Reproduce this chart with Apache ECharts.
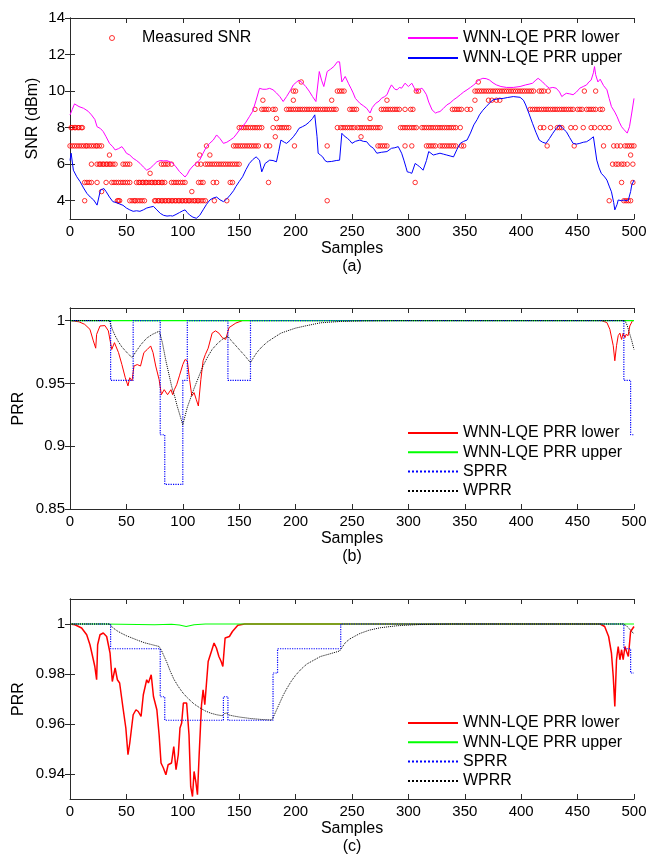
<!DOCTYPE html>
<html>
<head>
<meta charset="utf-8">
<script src="https://cdn.jsdelivr.net/npm/echarts@6.0.0/dist/echarts.min.js"></script>
<style>
  html, body { margin: 0; padding: 0; background: #fff; }
  #chart { width: 650px; height: 860px; }
</style>
</head>
<body>
<div id="chart"></div>
<script>
// ---- panel (a): measured SNR, one list of samples per SNR level ----
const snrLevels = [4, 4.5, 5, 5.5, 6, 6.5, 7, 7.5, 8, 8.5, 9, 9.5, 10, 10.5];
const snrSamples = [
  [13, 42, 43, 44, 53, 55, 57, 58, 60, 62, 64, 66, 75, 76, 78, 79, 81, 82, 84, 85, 87, 88, 90, 91, 93, 94, 96, 97, 99, 100, 102, 103, 105, 106, 108, 110, 111, 113, 114, 116, 118, 120, 128, 139, 228, 478, 491, 493, 495, 497],
  [28, 108],
  [13, 15, 17, 19, 24, 32, 37, 39, 41, 43, 45, 47, 49, 51, 53, 59, 61, 62, 64, 65, 67, 68, 70, 72, 73, 75, 76, 78, 79, 81, 82, 84, 90, 92, 94, 96, 98, 100, 102, 114, 116, 118, 127, 130, 142, 144, 176, 306, 489, 499],
  [71],
  [19, 24, 26, 27, 29, 30, 32, 33, 35, 36, 38, 40, 47, 49, 51, 53, 81, 83, 85, 87, 90, 113, 116, 120, 122, 124, 126, 128, 130, 132, 134, 136, 138, 140, 142, 144, 146, 148, 150, 481, 484, 486, 489, 491, 494, 499],
  [35, 115, 124, 497],
  [0, 2, 4, 6, 8, 10, 12, 14, 15, 17, 19, 21, 23, 24, 26, 28, 121, 145, 147, 149, 151, 153, 155, 157, 159, 161, 163, 165, 167, 174, 177, 199, 228, 273, 275, 277, 279, 281, 297, 303, 316, 318, 320, 322, 324, 328, 330, 332, 334, 336, 338, 340, 342, 347, 349, 423, 447, 473, 482, 485, 488, 492, 494, 496, 498, 500],
  [182, 258],
  [1, 2, 4, 5, 7, 8, 10, 11, 150, 152, 154, 156, 158, 160, 162, 164, 166, 168, 170, 180, 184, 186, 188, 190, 192, 194, 237, 240, 242, 244, 246, 248, 250, 252, 255, 257, 259, 261, 263, 265, 267, 269, 271, 273, 275, 293, 295, 297, 299, 301, 303, 305, 307, 312, 314, 316, 318, 320, 322, 324, 326, 328, 330, 332, 334, 336, 338, 340, 342, 346, 417, 420, 426, 432, 434, 436, 444, 448, 455, 462, 465, 470, 474, 478],
  [183, 266],
  [164, 170, 172, 174, 176, 180, 182, 192, 194, 196, 198, 200, 202, 204, 206, 208, 210, 212, 214, 216, 218, 220, 222, 224, 226, 228, 230, 232, 234, 236, 248, 250, 252, 254, 276, 278, 280, 282, 284, 286, 288, 290, 292, 297, 302, 304, 339, 341, 343, 345, 347, 352, 355, 408, 410, 412, 414, 416, 418, 420, 422, 424, 426, 428, 430, 432, 434, 436, 438, 440, 442, 444, 446, 450, 452, 454, 458, 460, 462, 464, 466, 470, 472],
  [171, 198, 232, 281, 359, 371, 374, 378, 381],
  [198, 200, 237, 239, 241, 243, 307, 309, 359, 361, 363, 365, 367, 369, 371, 373, 375, 377, 379, 381, 383, 385, 387, 389, 391, 393, 395, 397, 399, 401, 403, 405, 407, 409, 411, 416, 418, 420, 424, 456, 466],
  [205, 362]
];

// [sample, SNR dBm]
const aLower = [[0,8.69],[2,9.0],[4,9.3],[8,9.15],[12,9.06],[16,8.9],[19,8.7],[22,8.45],[24,8.05],[27,7.95],[29.5,7.78],[32,7.5],[35,7.14],[38,6.95],[40,6.78],[43,6.85],[46,6.96],[48,6.8],[50,6.6],[53,6.5],[56,6.32],[59,6.2],[62,6.05],[65,5.85],[68,5.67],[71,5.77],[74,5.95],[77,6.13],[80,6.2],[83,6.18],[86,6.19],[89,6.12],[91,6.05],[94,5.85],[97,5.6],[100,5.42],[102,5.3],[104,5.45],[106,5.68],[109,5.9],[112,6.05],[115,6.23],[118,6.6],[121,6.96],[124,7.15],[127,7.32],[130,7.6],[133,7.4],[136,7.14],[139,7.2],[142,7.32],[145,7.45],[147,7.6],[150,7.85],[153,8.05],[156,8.3],[159,8.6],[162,8.9],[165,9.5],[168,10.15],[171,10.1],[174,10.1],[177,10.15],[180,10.07],[183,9.9],[186,9.7],[189,9.43],[192,9.7],[195,10.0],[198,10.34],[201,10.5],[203,10.6],[206,10.45],[209,10.25],[212,10.0],[215,9.7],[218,9.43],[221,11.07],[223,10.6],[225,10.25],[228,11.07],[231,11.2],[234,11.35],[237,11.6],[239,11.6],[241,10.5],[244,10.8],[247,10.4],[249,10.16],[251,9.9],[253,9.6],[257,9.33],[260,9.2],[263,9.06],[266,8.8],[268,9.1],[271,9.33],[274,9.45],[276,9.6],[279,9.7],[281,9.8],[283,10.1],[285,10.34],[288,10.1],[290,10.07],[292,10.2],[294,10.16],[297,10.43],[300,10.25],[303,10.43],[305,10.2],[307,9.97],[310,10.1],[312,10.16],[314,10.0],[316,9.8],[318,9.4],[321,8.97],[324,8.8],[326,8.85],[328,8.88],[331,9.05],[334,9.24],[337,9.35],[340,9.52],[343,9.65],[346,9.8],[349,9.95],[352,10.07],[355,10.2],[358,10.34],[360,10.45],[362,10.6],[364,10.65],[366,10.7],[369,10.68],[372,10.6],[375,10.45],[378,10.34],[382,10.25],[387,10.2],[393,10.2],[399,10.25],[404,10.34],[407,10.38],[410,10.43],[413,10.6],[415,10.7],[417,10.6],[419,10.5],[422,10.3],[425,10.16],[428,10.2],[431,10.16],[434,9.95],[436,9.7],[438,9.8],[440,9.88],[443,9.85],[446,9.8],[449,9.95],[452,10.16],[455,10.25],[458,10.34],[460,10.5],[462,10.6],[464,11.0],[465,11.34],[466,10.9],[468,10.5],[470,10.65],[471,10.6],[473,10.3],[476,10.07],[478,9.6],[480,9.15],[483,8.85],[485,8.6],[487,8.3],[489,8.05],[491,7.9],[494,7.7],[496,8.05],[498,8.8],[500,9.6]];
const aUpper = [[0,6.2],[1,6.6],[3,5.67],[6,5.31],[9,5.04],[12,4.7],[15,4.4],[18,4.2],[21,4.04],[24,3.76],[27,4.58],[30,4.67],[32,4.5],[35,4.2],[38,3.95],[41,3.9],[44,3.82],[47,3.75],[50,3.6],[53,3.5],[56,3.42],[59,3.45],[62,3.42],[65,3.5],[68,3.6],[71,3.65],[74,3.69],[77,3.5],[80,3.31],[83,3.2],[86,3.16],[89,3.18],[91,3.16],[94,3.25],[97,3.35],[100,3.45],[102,3.5],[104,3.35],[106,3.22],[109,3.1],[112,3.04],[115,3.2],[118,3.5],[121,3.8],[124,4.04],[127,4.15],[130,4.2],[133,4.05],[136,3.95],[139,4.1],[142,4.31],[145,4.55],[147,4.77],[150,5.05],[153,5.31],[156,5.7],[159,6.04],[162,6.25],[165,6.4],[168,6.22],[170,5.58],[173,6.04],[177,6.22],[180,6.2],[183,6.13],[185,6.7],[187,7.32],[190,7.2],[192,7.14],[195,7.3],[198,7.5],[201,7.75],[203,7.96],[206,8.05],[209,8.15],[212,8.3],[215,8.5],[217,8.7],[219,7.5],[220,6.6],[222,6.5],[224,6.4],[226,6.2],[228,6.13],[232,6.15],[236,6.2],[239,6.22],[241,7.69],[243,7.55],[246,7.41],[248,7.3],[250,7.14],[253,7.25],[257,7.32],[260,7.25],[263,7.23],[266,7.0],[269,6.87],[272,6.6],[276,6.65],[281,6.69],[285,6.87],[288,6.9],[291,6.96],[294,6.6],[296,6.22],[298,5.8],[299,5.58],[301,5.55],[303,5.5],[306,6.04],[308,5.95],[310,5.86],[313,5.67],[316,6.2],[318,6.69],[320,6.6],[322,6.5],[325,6.55],[328,6.6],[331,6.55],[334,6.5],[337,6.45],[340,6.4],[343,6.8],[346,7.14],[349,7.25],[352,7.32],[355,7.7],[358,8.15],[361,8.45],[363,8.7],[366,8.95],[369,9.15],[372,9.35],[375,9.52],[380,9.58],[384,9.6],[388,9.65],[393,9.7],[399,9.66],[402,9.5],[404,9.24],[407,8.75],[410,8.24],[413,7.75],[416,7.32],[419,7.2],[422,7.14],[425,7.4],[428,7.69],[431,7.95],[434,8.15],[437,7.95],[440,7.78],[443,7.45],[446,7.14],[449,7.1],[452,7.14],[455,7.2],[458,7.23],[461,7.35],[464,7.5],[467,6.22],[469,5.8],[471,5.5],[474,5.3],[476,5.13],[478,4.8],[480,4.49],[482,3.9],[483,3.5],[485,3.8],[486,4.04],[489,4.0],[491,4.04],[493,4.0],[495,4.04],[497,4.5],[498,4.86],[500,5.13]];

// ---- panel (b): [sample, PRR] ----
const bLower = [[0,1],[4,0.9995],[8,0.999],[13,0.997],[17.7,0.993],[20.7,0.9838],[22.8,0.978],[23.6,0.989],[26.6,0.9957],[31,0.996],[34,0.9918],[37,0.977],[39.4,0.9824],[43,0.9745],[46,0.965],[49,0.9545],[51.4,0.948],[53,0.9545],[55,0.952],[56.7,0.9638],[59.6,0.965],[62.5,0.9638],[65.5,0.9745],[68.5,0.977],[71.5,0.9798],[73.6,0.9745],[76,0.9638],[79,0.953],[81,0.941],[83.5,0.945],[86.5,0.941],[89.5,0.945],[91,0.941],[92.5,0.945],[94.6,0.949],[97,0.956],[100,0.965],[102,0.969],[104,0.968],[106,0.953],[108,0.940],[110,0.9426],[112,0.937],[113.8,0.932],[116,0.953],[118,0.968],[120,0.973],[122.5,0.978],[126,0.990],[129,0.9918],[132,0.990],[135,0.9864],[138,0.985],[141,0.9944],[147,0.998],[153,1],[471,1],[476,0.9984],[478.6,0.993],[481.6,0.98],[483,0.968],[484.5,0.98],[486,0.988],[487.5,0.990],[489,0.985],[490.4,0.99],[492,0.9864],[493,0.989],[494.8,0.988],[496.3,0.9957],[498.7,1],[500,1]];
const bUpper = [[0,1],[250,1],[500,1]];
const bSprr = [[0,1],[36,0.9524],[56,1],[80,0.9091],[84,0.8696],[100,0.9524],[104,1],[140,0.9524],[160,1],[491,0.9524],[497,0.9091],[500,0.9091]];
const bWprr = [[0,1],[35,1],[36,0.997],[38,0.992],[40,0.988],[43,0.983],[46,0.979],[50,0.975],[55,0.9705],[59,0.976],[63,0.981],[68,0.986],[73,0.989],[79,0.9915],[80,0.989],[82,0.982],[85,0.968],[88,0.956],[90,0.948],[93,0.939],[95,0.932],[98,0.923],[100,0.917],[102,0.924],[104,0.931],[106,0.936],[110,0.946],[114,0.955],[118,0.964],[122,0.971],[126,0.977],[131,0.982],[135,0.985],[140,0.9875],[143,0.984],[146,0.981],[150,0.977],[155,0.972],[160,0.9665],[163,0.971],[166,0.975],[170,0.979],[175,0.983],[180,0.986],[187,0.99],[195,0.9925],[200,0.994],[210,0.996],[222,0.9982],[240,0.9993],[260,0.9998],[290,1],[492,1],[494,0.996],[496,0.99],[498,0.984],[500,0.977]];

// ---- panel (c): [sample, PRR] ----
const cLower = [[0,1],[4.4,0.9997],[10.3,0.9984],[14.8,0.9957],[17.7,0.9917],[20.7,0.9857],[22,0.983],[23.6,0.9777],[24.5,0.9917],[26.6,0.9957],[29.5,0.9964],[32.5,0.995],[35.5,0.9884],[37.5,0.977],[40,0.9824],[42,0.9777],[44,0.9764],[47,0.9664],[49.5,0.9584],[51.4,0.9477],[53,0.9524],[54.7,0.9517],[56,0.9637],[58.5,0.9657],[60.5,0.965],[63,0.963],[65,0.9717],[68,0.9777],[69.5,0.9764],[72,0.9797],[74,0.971],[77,0.9657],[79,0.9557],[80.7,0.9444],[82.8,0.9424],[85,0.9397],[87,0.9437],[90,0.9444],[92,0.951],[94,0.9417],[96,0.9477],[97.5,0.9584],[99,0.9604],[100.5,0.9684],[103.4,0.9684],[105.5,0.9557],[107,0.935],[108.6,0.931],[110,0.941],[111.5,0.937],[113,0.9317],[114.5,0.9477],[116.6,0.9677],[118,0.9737],[119.5,0.9677],[122.5,0.985],[125.4,0.9891],[127.7,0.9924],[129.8,0.9904],[132,0.987],[134,0.985],[135.5,0.983],[137.5,0.9944],[141.3,0.995],[144,0.997],[148.8,0.9995],[154.7,1],[470,1],[474,0.999],[477.5,0.995],[480,0.9884],[481.6,0.979],[483,0.967],[484.5,0.9857],[486,0.991],[487.5,0.9857],[489,0.9897],[490.4,0.9857],[492,0.991],[493.4,0.989],[495,0.987],[497,0.997],[500,0.999]];
const cUpper = [[0,1],[30,1],[60,0.9998],[75,0.9997],[90,0.9999],[97,0.9996],[103,0.999],[110,0.9997],[120,1],[500,1]];
const cSprr = [[0,1],[36,0.9901],[80,0.9709],[84,0.9615],[136,0.9709],[140,0.9615],[180,0.9804],[184,0.9901],[240,1],[491,0.9901],[497,0.9804],[500,0.9804]];
const cWprr = [[0,1],[35,1],[38,0.9985],[42,0.9972],[46,0.9962],[50,0.9953],[55,0.9944],[60,0.9935],[66,0.9925],[72,0.9918],[79,0.991],[81,0.9895],[83,0.9875],[86,0.9845],[89,0.981],[92,0.978],[96,0.975],[100,0.9725],[104,0.9705],[110,0.968],[115,0.9665],[120,0.9652],[125,0.9643],[130,0.9637],[135,0.9633],[137,0.9642],[139,0.9644],[141,0.9636],[145,0.9632],[150,0.9628],[160,0.9622],[170,0.9618],[179,0.9616],[181,0.9635],[183,0.9655],[186,0.9685],[189,0.9715],[192,0.974],[196,0.977],[200,0.9795],[205,0.982],[210,0.984],[216,0.9855],[222,0.987],[230,0.988],[239,0.9892],[241,0.9905],[244,0.9925],[248,0.994],[252,0.995],[257,0.9962],[265,0.9975],[275,0.9985],[290,0.9993],[310,0.9998],[340,1],[491,1],[494,0.999],[497,0.9975],[500,0.996]];

// tick values
const snrTicks = [4, 6, 8, 10, 12, 14];
const prrTicksB = [0.85, 0.9, 0.95, 1];
const prrTicksC = [0.94, 0.96, 0.98, 1];

const FONT = 'Liberation Sans';
const AXIS_COLOR = '#2b2b2b';

const snrData = [];
snrLevels.forEach((lvl, i) => snrSamples[i].forEach(s => snrData.push([s, lvl])));

function xAxes(gridIndex, label) {
  const common = {
    type: 'value', gridIndex, min: 0, max: 500, interval: 50,
    axisLine: { show: true, lineStyle: { color: AXIS_COLOR, width: 1 } },
    axisTick: { show: true, inside: true, length: 5, lineStyle: { color: AXIS_COLOR } },
    splitLine: { show: false }
  };
  return [
    Object.assign({}, common, {
      position: 'bottom',
      axisLabel: { fontSize: 15, color: '#000', margin: 5, fontFamily: FONT },
      name: 'Samples\n' + label, nameLocation: 'middle', nameGap: 19,
      nameTextStyle: { fontSize: 16, color: '#000', lineHeight: 18, fontFamily: FONT }
    }),
    Object.assign({}, common, { position: 'top', axisLabel: { show: false } })
  ];
}

function yAxes(gridIndex, min, max, ticks, name, gap) {
  const common = {
    type: 'value', gridIndex, min, max,
    axisLine: { show: true, lineStyle: { color: AXIS_COLOR, width: 1 } },
    axisTick: { show: true, inside: true, length: 5, customValues: ticks, lineStyle: { color: AXIS_COLOR } },
    splitLine: { show: false }
  };
  return [
    Object.assign({}, common, {
      position: 'left',
      axisLabel: { customValues: ticks, fontSize: 15, color: '#000', margin: 5, fontFamily: FONT },
      name, nameLocation: 'middle', nameRotate: 90, nameGap: gap, nameMoveOverlap: false,
      nameTextStyle: { fontSize: 16, color: '#000', fontFamily: FONT }
    }),
    Object.assign({}, common, { position: 'right', axisLabel: { show: false } })
  ];
}

function line(name, data, axis, color, width, type, step) {
  return {
    name, type: 'line', data, xAxisIndex: axis, yAxisIndex: axis,
    symbol: 'none', step: step || false, animation: false,
    lineStyle: { color, width, type: type || 'solid' },
    itemStyle: { color }
  };
}

const stripPanel = n => n.replace(/ \([abc]\)$/, '');
const legendBase = {
  orient: 'vertical', itemWidth: 50, itemHeight: 14, itemGap: 3.3, padding: 0,
  textStyle: { fontSize: 16, color: '#000', fontFamily: FONT, lineHeight: 16 },
  formatter: stripPanel, selectedMode: false,
  itemStyle: { opacity: 0 }   // line legends: show only the line, no marker
};

const option = {
  backgroundColor: '#fff',
  animation: false,
  grid: [
    { left: 70, top: 18, width: 564, height: 201, outerBoundsMode: 'none' },
    { left: 70, top: 308, width: 564, height: 201, outerBoundsMode: 'none' },
    { left: 70, top: 599, width: 564, height: 200, outerBoundsMode: 'none' }
  ],
  xAxis: [...xAxes(0, '(a)'), ...xAxes(1, '(b)'), ...xAxes(2, '(c)')],
  yAxis: [
    ...yAxes(0, 3, 14, snrTicks, 'SNR (dBm)', 29),
    ...yAxes(1, 0.85, 1.01, prrTicksB, 'PRR', 43),
    ...yAxes(2, 0.93, 1.01, prrTicksC, 'PRR', 43)
  ],
  legend: [
    Object.assign({}, legendBase, { left: 109, top: 30, itemHeight: 5, itemStyle: { borderWidth: 1 }, data: ['Measured SNR'] }),
    Object.assign({}, legendBase, { left: 407, top: 30, itemGap: 4, data: ['WNN-LQE PRR lower (a)', 'WNN-LQE PRR upper (a)'] }),
    Object.assign({}, legendBase, { left: 407, top: 425, data: ['WNN-LQE PRR lower (b)', 'WNN-LQE PRR upper (b)', 'SPRR (b)', 'WPRR (b)'] }),
    Object.assign({}, legendBase, { left: 407, top: 715, data: ['WNN-LQE PRR lower (c)', 'WNN-LQE PRR upper (c)', 'SPRR (c)', 'WPRR (c)'] })
  ],
  series: [
    {
      name: 'Measured SNR', type: 'scatter', data: snrData, xAxisIndex: 0, yAxisIndex: 0,
      symbol: 'circle', symbolSize: 4.5, animation: false,
      itemStyle: { color: 'rgba(255,255,255,0)', borderColor: '#ff0000', borderWidth: 1 }
    },
    line('WNN-LQE PRR lower (a)', aLower, 0, '#ff00ff', 1),
    line('WNN-LQE PRR upper (a)', aUpper, 0, '#0000ff', 1),

    line('WNN-LQE PRR lower (b)', bLower, 2, '#ff0000', 1),
    line('WNN-LQE PRR upper (b)', bUpper, 2, '#00ff00', 1.2),
    line('SPRR (b)', bSprr, 2, '#0000ff', 1.2, 'dotted', 'end'),
    line('WPRR (b)', bWprr, 2, '#000000', 1, 'dotted'),

    line('WNN-LQE PRR lower (c)', cLower, 4, '#ff0000', 1.5),
    line('WNN-LQE PRR upper (c)', cUpper, 4, '#00ff00', 1.2),
    line('SPRR (c)', cSprr, 4, '#0000ff', 1.2, 'dotted', 'end'),
    line('WPRR (c)', cWprr, 4, '#000000', 1, 'dotted')
  ]
};

const chart = echarts.init(document.getElementById('chart'), null, { renderer: 'canvas' });
chart.setOption(option);
</script>
</body>
</html>
